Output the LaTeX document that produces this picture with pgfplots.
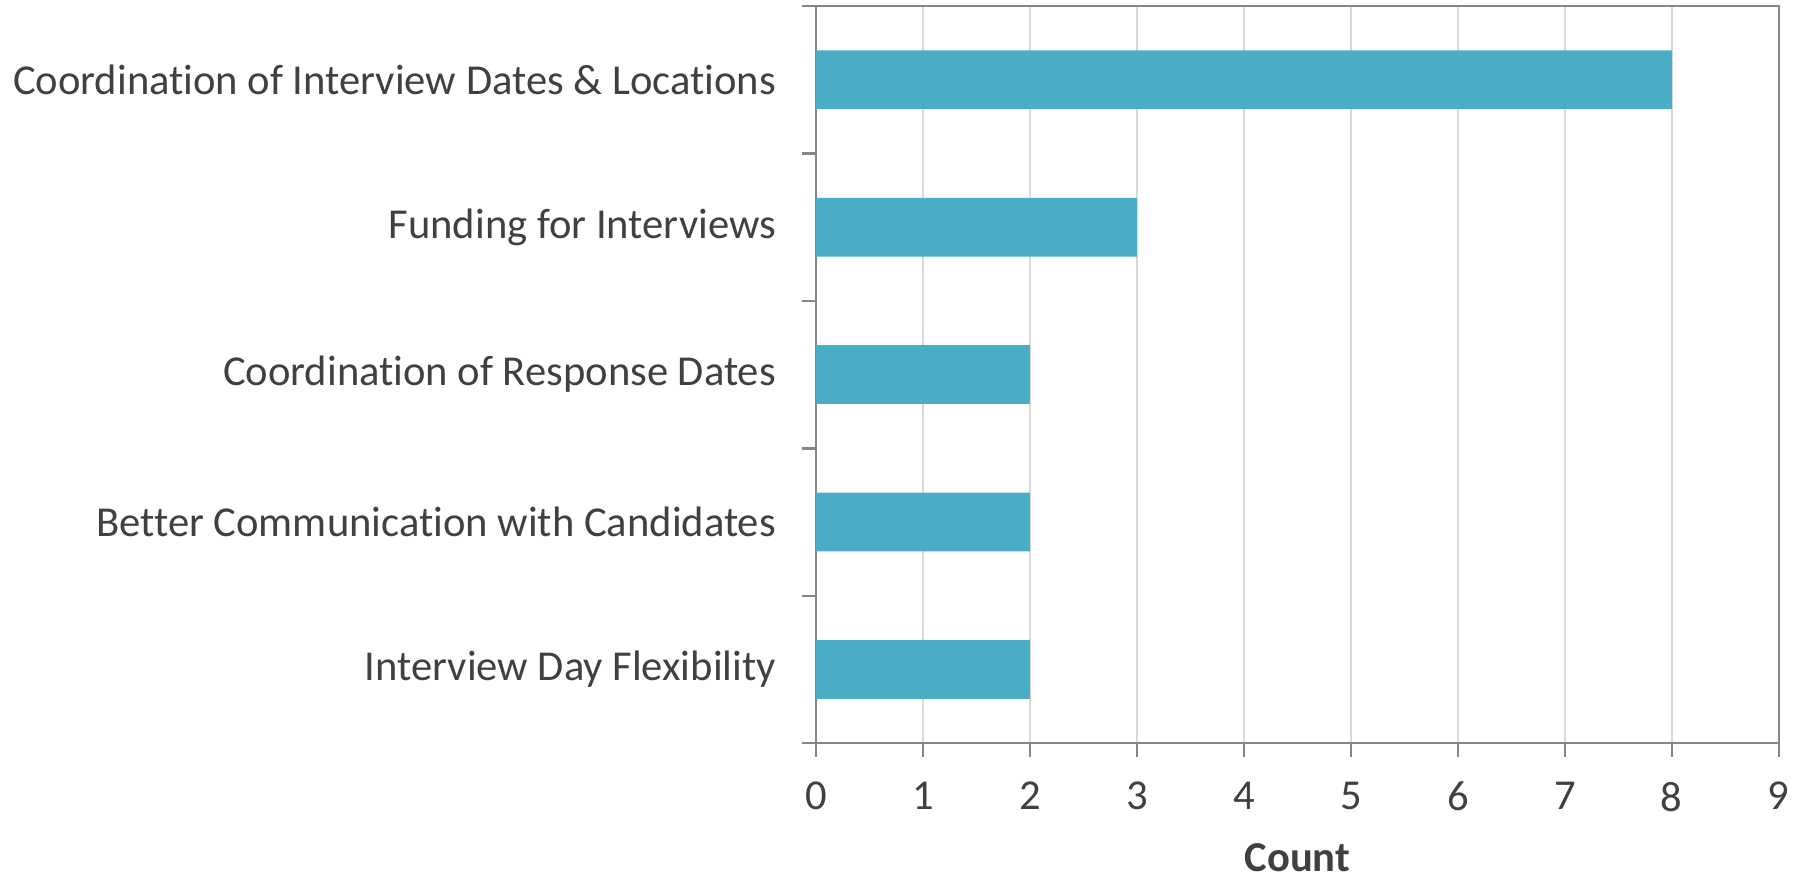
\documentclass[border=0pt]{standalone}
\usepackage{fontspec}
\setmainfont{Carlito}[Ligatures=NoCommon]
\usepackage{pgfplots}
\pgfplotsset{compat=1.18}
\definecolor{barteal}{HTML}{4BACC6}
\definecolor{gridgray}{HTML}{D9D9D9}
\definecolor{axisgray}{HTML}{868686}
\definecolor{textgray}{HTML}{404040}
\newcommand{\lblfont}{\fontsize{10.65}{12.5}\selectfont}
\begin{document}
\begin{tikzpicture}
% fixed page extents (1804x877 px at 0.25pt per px)
\path (-204pt,-33.4pt) rectangle (247pt,185.8pt);
\begin{axis}[
    at={(0,0)}, anchor=south west,
    width=240.7pt, height=184.3pt, scale only axis,
    xbar, bar width=14.7pt,
    xmin=0, xmax=9, ymin=0.5, ymax=5.5,
    xtick={0,1,...,9},
    ytick={0.5,1.5,2.5,3.5,4.5,5.5},
    yticklabels={},
    yticklabel style={inner sep=0pt},
    extra y ticks={1,2,3,4,5},
    extra y tick labels={Interview Day Flexibility, Better Communication with Candidates, Coordination of Response Dates, Funding for Interviews, Coordination of Interview Dates \& Locations},
    extra y tick style={major tick length=0pt, yticklabel style={inner sep=0pt, xshift=-9.8pt}},
    axis line style={axisgray, line width=0.6pt},
    xtick pos=bottom, ytick pos=left,
    xmajorgrids, grid style={gridgray, line width=0.5pt},
    tick style={axisgray, line width=0.6pt},
    tick align=outside, major tick length=3.5pt,
    /pgf/number format/assume math mode=true,
    tick label style={font=\lblfont, text=textgray},
    xticklabel style={yshift=-2.7pt},
    xlabel={\textbf{Count}},
    xlabel style={font=\lblfont, text=textgray, inner sep=0pt, at={(axis description cs:0.5,0)}, anchor=base, yshift=-32.2pt},
    clip=false,
]
\addplot[fill=barteal, draw=none] coordinates {(2,1) (2,2) (2,3) (3,4) (8,5)};
\end{axis}
\end{tikzpicture}
\end{document}
